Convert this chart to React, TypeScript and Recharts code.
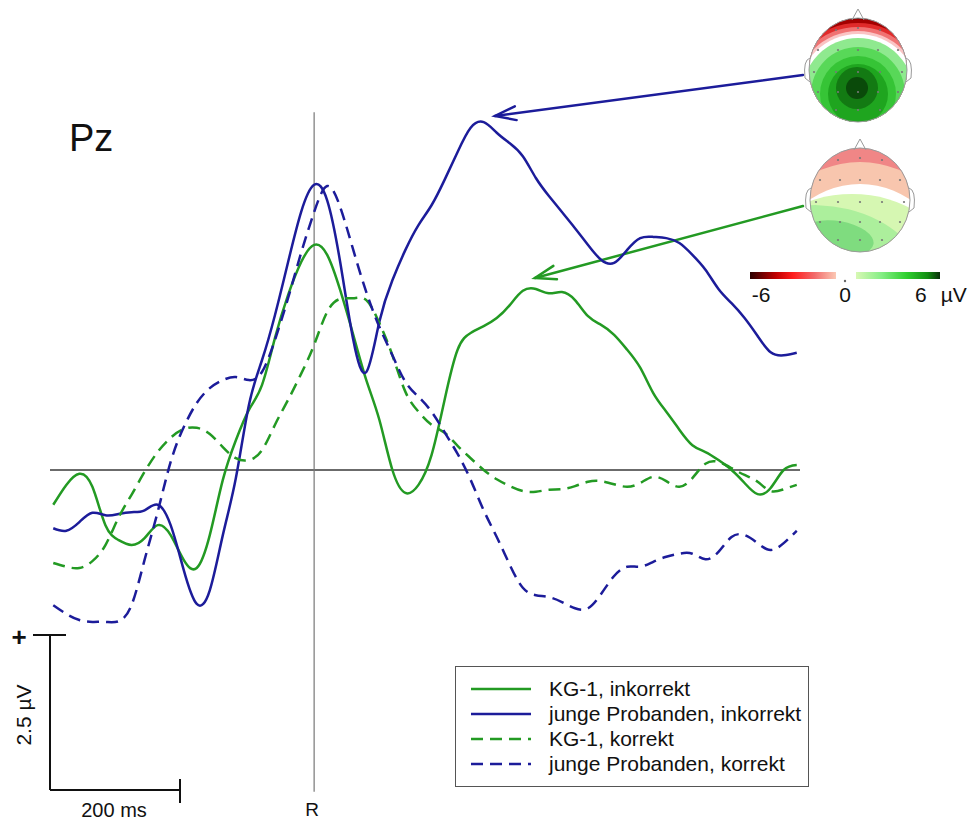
import { LineChart, Line, XAxis, YAxis, ReferenceLine, Legend, Customized } from 'recharts';

const FONT = '"Liberation Sans", Arial, sans-serif';
const GREEN = '#239a23';
const BLUE = '#1c1c9a';

// time relative to the response R, in ms
const times = [
  -400, -380, -360, -340, -320, -300, -280, -260, -240, -220,
  -200, -180, -160, -140, -120, -100, -80, -60, -40, -20,
  0, 20, 40, 60, 80, 100, 120, 140, 160, 180,
  200, 220, 240, 260, 280, 300, 320, 340, 360, 380,
  400, 420, 440, 460, 480, 500, 520, 540, 560, 580,
  600, 620, 640, 660, 680, 700, 720, 740,
];

// amplitudes at Pz in µV (positive up)
const kgInkorrekt = [
  -0.56, -0.24, -0.06, -0.27, -0.89, -1.13, -1.21, -1.10, -0.89, -1.05,
  -1.45, -1.58, -1.05, -0.16, 0.48, 0.97, 1.37, 2.13, 2.82, 3.35,
  3.63, 3.47, 2.90, 2.18, 1.45, 0.81, 0.00, -0.37, -0.24, 0.24,
  1.13, 1.94, 2.21, 2.32, 2.45, 2.66, 2.89, 2.92, 2.85, 2.87,
  2.74, 2.48, 2.34, 2.18, 1.94, 1.65, 1.24, 0.94, 0.65, 0.40,
  0.29, 0.16, 0.00, -0.21, -0.39, -0.29, 0.00, 0.08,
];
const jungeInkorrekt = [
  -0.94, -0.98, -0.84, -0.69, -0.73, -0.71, -0.68, -0.65, -0.56, -0.89,
  -1.61, -2.16, -1.94, -1.05, -0.13, 1.05, 1.77, 2.50, 3.35, 4.16,
  4.60, 4.35, 3.35, 2.10, 1.58, 2.39, 3.06, 3.55, 3.95, 4.27,
  4.68, 5.13, 5.52, 5.61, 5.44, 5.27, 5.06, 4.71, 4.42, 4.16,
  3.90, 3.63, 3.39, 3.34, 3.55, 3.74, 3.76, 3.74, 3.66, 3.47,
  3.23, 2.92, 2.69, 2.45, 2.16, 1.90, 1.85, 1.89,
];
const kgKorrekt = [
  -1.50, -1.56, -1.58, -1.47, -1.21, -0.77, -0.40, -0.03, 0.29, 0.52,
  0.66, 0.68, 0.58, 0.37, 0.19, 0.16, 0.32, 0.73, 1.13, 1.55,
  2.02, 2.55, 2.76, 2.77, 2.74, 2.37, 1.85, 1.26, 0.94, 0.73,
  0.60, 0.39, 0.19, 0.00, -0.15, -0.26, -0.34, -0.35, -0.32, -0.31,
  -0.26, -0.19, -0.18, -0.23, -0.27, -0.21, -0.11, -0.18, -0.27, -0.13,
  0.10, 0.13, 0.03, -0.08, -0.19, -0.34, -0.31, -0.24,
];
const jungeKorrekt = [
  -2.18, -2.32, -2.42, -2.45, -2.45, -2.44, -2.18, -1.45, -0.68, 0.13,
  0.69, 1.08, 1.32, 1.45, 1.50, 1.45, 1.58, 2.10, 2.77, 3.50,
  4.16, 4.58, 4.24, 3.55, 2.87, 2.31, 1.85, 1.42, 1.18, 0.94,
  0.61, 0.26, -0.16, -0.65, -1.08, -1.53, -1.90, -2.02, -2.05, -2.13,
  -2.23, -2.23, -2.00, -1.71, -1.56, -1.56, -1.48, -1.40, -1.35, -1.35,
  -1.44, -1.32, -1.08, -1.05, -1.18, -1.29, -1.18, -0.98,
];

const series = [
  { key: 'kgInk', name: 'KG-1, inkorrekt', color: GREEN, dash: undefined, values: kgInkorrekt },
  { key: 'jungeInk', name: 'junge Probanden, inkorrekt', color: BLUE, dash: undefined, values: jungeInkorrekt },
  { key: 'kgKor', name: 'KG-1, korrekt', color: GREEN, dash: '12 7', values: kgKorrekt },
  { key: 'jungeKor', name: 'junge Probanden, korrekt', color: BLUE, dash: '12 7', values: jungeKorrekt },
];

const data = times.map((t, i) => {
  const row: Record<string, number> = { t };
  series.forEach((s) => { row[s.key] = s.values[i]; });
  return row;
});

// calibration bar: 200 ms / 2.5 µV, placed at the left edge
const barMs = 200;
const barUv = 2.5;
const barX0 = -405;
const barYBottom = -5.16;

const Arrow = ({ x1, y1, x2, y2, color }: any) => {
  const ang = Math.atan2(y1 - y2, x1 - x2);
  const len = 22;
  const spread = 0.32;
  const a = [x2 + len * Math.cos(ang + spread), y2 + len * Math.sin(ang + spread)];
  const b = [x2 + len * Math.cos(ang - spread), y2 + len * Math.sin(ang - spread)];
  return (
    <g stroke={color} strokeWidth={2.5} fill="none" strokeLinecap="round">
      <line x1={x1} y1={y1} x2={x2} y2={y2} />
      <polyline points={`${a[0]},${a[1]} ${x2},${y2} ${b[0]},${b[1]}`} />
    </g>
  );
};

const HeadOutline = ({ cx, cy, rx, ry }: any) => (
  <g stroke="#9a9a9a" strokeWidth={1} fill="none">
    <path d={`M ${cx - 6} ${cy - ry + 2} L ${cx} ${cy - ry - 9} L ${cx + 6} ${cy - ry + 2}`} />
    <path d={`M ${cx - rx + 1} ${cy - 12} Q ${cx - rx - 6} ${cy - 10} ${cx - rx - 4} ${cy + 8} L ${cx - rx + 1} ${cy + 12}`} />
    <path d={`M ${cx + rx - 1} ${cy - 12} Q ${cx + rx + 6} ${cy - 10} ${cx + rx + 4} ${cy + 8} L ${cx + rx - 1} ${cy + 12}`} />
    <ellipse cx={cx} cy={cy} rx={rx} ry={ry} />
  </g>
);

const electrodes = [
  [-22, -40], [0, -42], [22, -40],
  [-40, -20], [-20, -20], [0, -20], [20, -20], [40, -20],
  [-44, 2], [-22, 2], [0, 2], [22, 2], [44, 2],
  [-40, 22], [-20, 22], [0, 22], [20, 22], [40, 22],
  [-22, 40], [0, 40], [22, 40],
];

const Dots = ({ cx, cy }: any) => (
  <g fill="#777">
    {electrodes.map(([dx, dy], i) => <circle key={i} cx={cx + dx} cy={cy + dy} r={1.1} />)}
  </g>
);

const TopoStrong = () => {
  const cx = 858, cy = 70, rx = 49, ry = 52;
  const gx = 858, gy = 94;
  const rings = [
    [90, '#4a0000'], [75, '#a30000'], [71, '#e02a2a'], [67, '#f07272'], [63, '#fac4c4'], [60, '#ffffff'],
    [56, '#8fe98f'], [47, '#58d858'], [38, '#36c436'], [30, '#1fa51f'],
  ];
  return (
    <g>
      <defs>
        <clipPath id="headA"><ellipse cx={cx} cy={cy} rx={rx} ry={ry} /></clipPath>
      </defs>
      <g clipPath="url(#headA)">
        {rings.map(([r, c], i) => <circle key={i} cx={gx} cy={gy} r={r as number} fill={c as string} />)}
        <circle cx={857} cy={88} r={21} fill="#137a13" />
        <circle cx={857} cy={88} r={11} fill="#0a4a0a" />
      </g>
      <Dots cx={cx} cy={cy} />
      <HeadOutline cx={cx} cy={cy} rx={rx} ry={ry} />
    </g>
  );
};

const TopoWeak = () => {
  const cx = 860, cy = 200, rx = 50, ry = 52;
  return (
    <g>
      <defs>
        <clipPath id="headB"><ellipse cx={cx} cy={cy} rx={rx} ry={ry} /></clipPath>
      </defs>
      <g clipPath="url(#headB)">
        <rect x={cx - 60} y={cy - 60} width={120} height={120} fill="#f08686" />
        <circle cx={860} cy={262} r={100} fill="#f8c6ae" />
        <circle cx={860} cy={272} r={88} fill="#ffffff" />
        <ellipse cx={852} cy={262} rx={95} ry={68} fill="#d6f7b2" />
        <ellipse cx={838} cy={252} rx={80} ry={44} fill="#acef9c" transform="rotate(14 838 252)" />
        <ellipse cx={838} cy={238} rx={36} ry={17} fill="#7fdc7f" transform="rotate(10 838 238)" />
      </g>
      <Dots cx={cx} cy={cy} />
      <HeadOutline cx={cx} cy={cy} rx={rx} ry={ry} />
    </g>
  );
};

const ColorBar = () => (
  <g>
    <defs>
      <linearGradient id="cbRed" x1="0" x2="1" y1="0" y2="0">
        <stop offset="0" stopColor="#2a0000" />
        <stop offset="0.3" stopColor="#c00000" />
        <stop offset="0.5" stopColor="#ff1e1e" />
        <stop offset="0.75" stopColor="#f26a6a" />
        <stop offset="1" stopColor="#fbc8b4" />
      </linearGradient>
      <linearGradient id="cbGreen" x1="0" x2="1" y1="0" y2="0">
        <stop offset="0" stopColor="#d8f8b4" />
        <stop offset="0.3" stopColor="#86ee86" />
        <stop offset="0.6" stopColor="#2fd02f" />
        <stop offset="0.85" stopColor="#128e12" />
        <stop offset="1" stopColor="#0a300a" />
      </linearGradient>
    </defs>
    <rect x={750} y={272} width={86} height={7} fill="url(#cbRed)" />
    <circle cx={845} cy={281} r={1.2} fill="#666" />
    <rect x={856} y={272} width={84} height={7} fill="url(#cbGreen)" />
    <g fontFamily={FONT} fontSize={21} fill="#111">
      <text x={761} y={302} textAnchor="middle">-6</text>
      <text x={845} y={302} textAnchor="middle">0</text>
      <text x={915} y={302}>6<tspan dx={14}>µV</tspan></text>
    </g>
  </g>
);

const Decor = () => (
  <g>
    <text x={69} y={151} fontFamily={FONT} fontSize={38} fill="#111">Pz</text>
    <text x={19} y={646} fontFamily={FONT} fontSize={26} fontWeight="bold" fill="#111" textAnchor="middle">+</text>
    <line x1={33} y1={635} x2={66} y2={635} stroke="#111" strokeWidth={2} />
    <line x1={180} y1={779} x2={180} y2={803} stroke="#111" strokeWidth={2} />
    <text x={0} y={0} transform="translate(31 715) rotate(-90)" fontFamily={FONT} fontSize={21} fill="#111" textAnchor="middle">2.5 µV</text>
    <text x={114} y={817} fontFamily={FONT} fontSize={20} fill="#111" textAnchor="middle">200 ms</text>
    <text x={312} y={816} fontFamily={FONT} fontSize={19} fill="#111" textAnchor="middle">R</text>
    <Arrow x1={803} y1={75} x2={495} y2={116} color={BLUE} />
    <Arrow x1={803} y1={206} x2={535} y2={278} color={GREEN} />
    <TopoStrong />
    <TopoWeak />
    <ColorBar />
  </g>
);

const renderLegend = () => (
  <div
    style={{
      border: '1.5px solid #555',
      background: '#fff',
      boxSizing: 'border-box',
      width: 354,
      height: 121,
      padding: '9px 0 0 14px',
      fontFamily: FONT,
      fontSize: 21,
      color: '#111',
      lineHeight: '25px',
    }}
  >
    {series.map((s) => (
      <div key={s.key} style={{ display: 'flex', alignItems: 'center', height: 25 }}>
        <svg width={62} height={10} style={{ marginRight: 17 }}>
          <line x1={1} y1={5} x2={61} y2={5} stroke={s.color} strokeWidth={2.5} strokeDasharray={s.dash} />
        </svg>
        <span>{s.name}</span>
      </div>
    ))}
  </div>
);

const App = () => {
  return (
    <div style={{ position: 'absolute', left: 0, top: 0, width: 979, height: 822, background: '#fff', fontFamily: FONT }}>
      <LineChart width={979} height={822} data={data} margin={{ top: 98, right: 179, bottom: 166, left: 50 }}>
        <XAxis type="number" dataKey="t" domain={[-405, 745]} hide />
        <YAxis type="number" domain={[-3, 6]} hide />
        <ReferenceLine y={0} stroke="#3a3a3a" strokeWidth={1.5} />
        <ReferenceLine
          segment={[{ x: 0, y: 5.77 }, { x: 0, y: barYBottom - 0.03 }]}
          stroke="#777"
          strokeWidth={1.2}
          ifOverflow="visible"
        />
        <ReferenceLine
          segment={[{ x: barX0, y: barYBottom + barUv }, { x: barX0, y: barYBottom }]}
          stroke="#111"
          strokeWidth={2}
          ifOverflow="visible"
        />
        <ReferenceLine
          segment={[{ x: barX0, y: barYBottom }, { x: barX0 + barMs, y: barYBottom }]}
          stroke="#111"
          strokeWidth={2}
          ifOverflow="visible"
        />
        {series.map((s) => (
          <Line
            key={s.key}
            type="natural"
            dataKey={s.key}
            name={s.name}
            stroke={s.color}
            strokeWidth={2.5}
            strokeDasharray={s.dash}
            dot={false}
            activeDot={false}
            isAnimationActive={false}
          />
        ))}
        <Legend
          layout="vertical"
          align="center"
          verticalAlign="middle"
          content={renderLegend}
          wrapperStyle={{ left: 455, top: 666, width: 354, height: 121 }}
        />
        <Customized component={Decor} />
      </LineChart>
    </div>
  );
};

export default App;
